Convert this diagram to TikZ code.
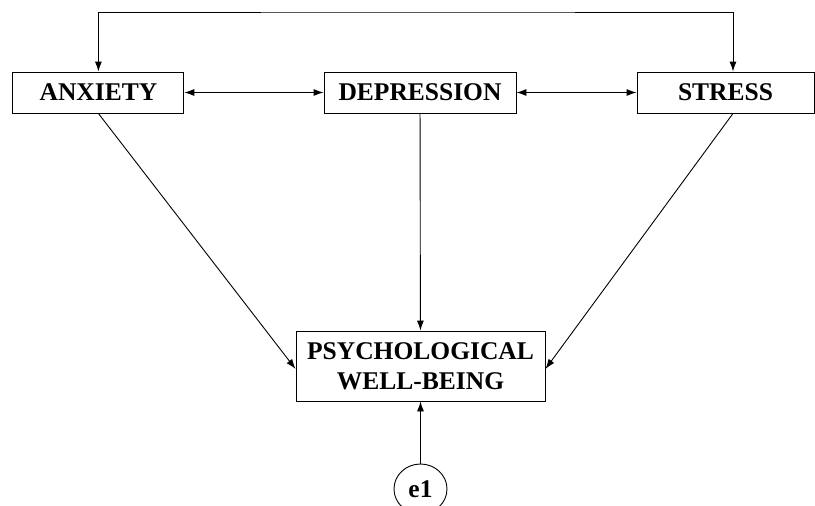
\documentclass[tikz,border=0pt]{standalone}
\usepackage{fontspec}
\setmainfont{Liberation Serif}
\usetikzlibrary{arrows.meta,shapes.geometric}
\tikzset{>={Latex[length=10pt,width=7pt]}}
\tikzset{
  varbox/.style={draw, line width=0.9pt, inner sep=0pt, minimum height=41pt,
    font=\fontsize{25.5}{30}\selectfont\bfseries, align=center},
  path/.style={line width=0.9pt}
}

\begin{document}
\begin{tikzpicture}[x=1pt,y=-1pt]
  \useasboundingbox (0,0) rectangle (815,506);
  \node[varbox, minimum width=171pt] (anx) at (98.4,92.5) {ANXIETY};
  \node[varbox, minimum width=192pt] (dep) at (420,92.5) {DEPRESSION};
  \node[varbox, minimum width=177pt] (str) at (725.5,92.5) {STRESS};
  \node[varbox, minimum width=249pt, minimum height=70pt] (pwb) at (420.5,366)
    {PSYCHOLOGICAL\\WELL-BEING};
  \node[draw, line width=0.9pt, ellipse, minimum width=53pt, minimum height=50pt,
    inner sep=0pt, font=\fontsize{25.5}{30}\selectfont\bfseries] (e1) at (420.5,489) {e1};
  \coordinate (top) at (420,12);

  \draw[path,<->] (anx.north) |- (top) -| ([xshift=7.5]str.north);
  \draw[path,<->] (anx) -- (dep);
  \draw[path,<->] (dep) -- (str);
  \draw[path,->] (anx.south) -- ([yshift=-3]pwb.west);
  \draw[path,->] (dep) -- (pwb);
  \draw[path,->] ([xshift=7.5]str.south) -- ([yshift=-3]pwb.east);
  \draw[path,->] (e1) -- (pwb);
\end{tikzpicture}
\end{document}
